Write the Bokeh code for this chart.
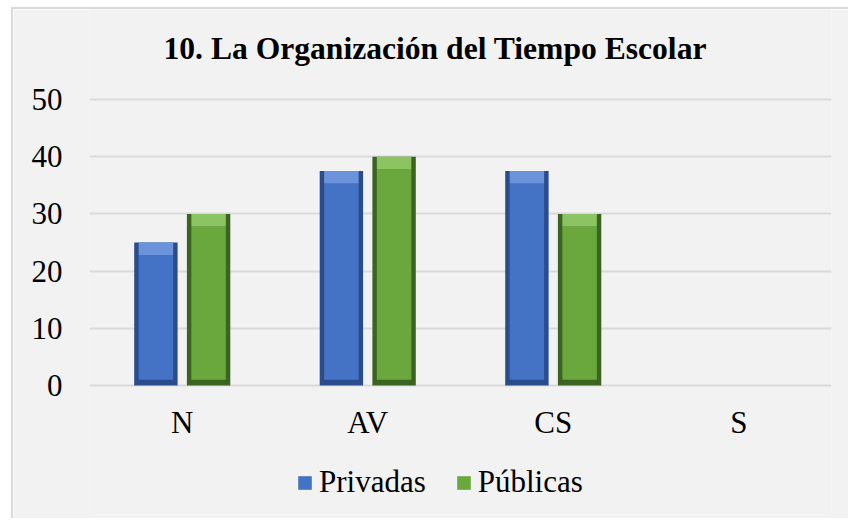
from bokeh.plotting import figure
from bokeh.models import (FactorRange, Range1d, FixedTicker, Legend, LegendItem,
                          ColumnDataSource, Label)
from bokeh.transform import dodge
from bokeh.embed import file_html
from bokeh.resources import INLINE

# ---- data ----
categories = ["N", "AV", "CS", "S"]
privadas = [25, 37.5, 37.5, 0]
publicas = [30, 40, 30, 0]
y_ticks = [0, 10, 20, 30, 40, 50]
series_names = ["Privadas", "Públicas"]
title_text = "10. La Organización del Tiempo Escolar"

# ---- styling / layout ----
FONT = "Liberation Serif"
BG = "#f2f2f2"
GRID = "#d9d9d9"
BLUE_EDGE, BLUE_BODY, BLUE_CAP = "#2a4c8c", "#4472c4", "#6b93dc"
GREEN_EDGE, GREEN_BODY, GREEN_CAP = "#3b6322", "#6aa83e", "#8dc462"
BAR_W = 0.234
OFFSET = 0.142
INSET_X = 0.024      # fraction of category width (~4.5 px)
INSET_BOT = 1.0      # value units
CAP_H = 2.2          # value units (light top bevel)
W, H = 837, 511
TOP_PAD, BOTTOM_PAD = 0, 6
PX_PER_UNIT = 5.72
Y_HI = 50 + 90 / PX_PER_UNIT      # plot area extends up to the chart top
Y_LO = -129 / PX_PER_UNIT         # and down over the category labels / legend
XLABEL_Y = -6.55                  # baseline of category labels (value units)


def body_top(vals):
    return [max(v - CAP_H, INSET_BOT) for v in vals]


def cap_bottom(vals):
    return [max(v - CAP_H, 0) for v in vals]


src = ColumnDataSource(dict(
    cat=categories,
    priv=privadas,
    pub=publicas,
    priv_body=body_top(privadas),
    pub_body=body_top(publicas),
    priv_cap=cap_bottom(privadas),
    pub_cap=cap_bottom(publicas),
    base_in=[INSET_BOT] * len(categories),
))

p = figure(x_range=FactorRange(*categories, range_padding=0),
           y_range=Range1d(Y_LO, Y_HI),
           width=W, height=H,
           output_backend="svg", toolbar_location=None,
           min_border_left=76, min_border_right=19,
           min_border_top=TOP_PAD, min_border_bottom=BOTTOM_PAD)

p.background_fill_color = BG
p.border_fill_color = BG
p.outline_line_color = None
p.margin = (7, 0, 0, 11)
p.styles = {"border-top": "2px solid #d9d9d9",
            "border-left": "2px solid #d9d9d9"}

# title (screen offsets from plot-area bottom-left)
p.add_layout(Label(x=74, y=466, x_units="screen", y_units="screen",
                   text=title_text, text_font=FONT, text_font_size="31.6px",
                   text_font_style="bold", text_color="#000000",
                   text_align="left", text_baseline="alphabetic"))


def bar(offset, top, body, cap, edge, body_c, cap_c):
    x = dodge("cat", offset, range=p.x_range)
    p.vbar(x=x, top=top, width=BAR_W, source=src, fill_color=edge, line_color=None)
    r = p.vbar(x=x, top=body, bottom="base_in", width=BAR_W - 2 * INSET_X,
               source=src, fill_color=body_c, line_color=None)
    p.vbar(x=x, top=top, bottom=cap, width=BAR_W - 2 * INSET_X,
           source=src, fill_color=cap_c, line_color=None)
    return r


r1 = bar(-OFFSET, "priv", "priv_body", "priv_cap", BLUE_EDGE, BLUE_BODY, BLUE_CAP)
r2 = bar(OFFSET, "pub", "pub_body", "pub_cap", GREEN_EDGE, GREEN_BODY, GREEN_CAP)

# category labels
p.text(x="cat", y=XLABEL_Y, text="cat", source=src,
       text_font={"value": FONT}, text_font_size={"value": "31px"},
       text_color="#000000", text_align="center", text_baseline="alphabetic")

# axes
p.xaxis.visible = False
ax = p.yaxis[0]
ax.axis_line_color = None
ax.major_tick_line_color = None
ax.minor_tick_line_color = None
ax.major_tick_out = 0
ax.major_tick_in = 0
ax.major_label_text_font = FONT
ax.major_label_text_font_size = "31px"
ax.major_label_text_color = "#000000"
ax.ticker = FixedTicker(ticks=y_ticks)
ax.major_label_standoff = 27

p.xgrid.grid_line_color = None
p.ygrid.ticker = FixedTicker(ticks=y_ticks)
p.ygrid.grid_line_color = GRID
p.ygrid.grid_line_width = 2

legend = Legend(items=[LegendItem(label=series_names[0], renderers=[r1]),
                       LegendItem(label=series_names[1], renderers=[r2])],
                orientation="horizontal", location=(207, 14),
                glyph_width=17, glyph_height=17, label_standoff=6, spacing=29,
                padding=0, margin=0, border_line_color=None,
                background_fill_alpha=0,
                label_text_font=FONT, label_text_font_size="31px",
                label_text_color="#000000")
p.add_layout(legend, "center")

open("out.html", "w").write(file_html(p, INLINE))
